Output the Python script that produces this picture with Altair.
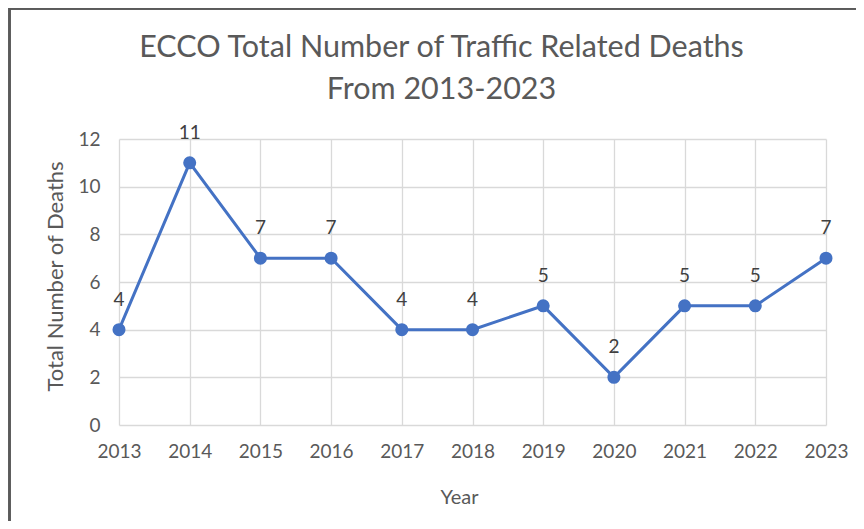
import altair as alt
import pandas as pd

years = [2013, 2014, 2015, 2016, 2017, 2018, 2019, 2020, 2021, 2022, 2023]
deaths = [4, 11, 7, 7, 4, 4, 5, 2, 5, 5, 7]
y_ticks = [0, 2, 4, 6, 8, 10, 12]

df = pd.DataFrame({"Year": years, "Deaths": deaths})

FONT = "Lato"
GRAY = "#595959"
BLUE = "#4472C4"

x = alt.X(
    "Year:Q",
    scale=alt.Scale(domain=[2013, 2023], nice=False, zero=False),
    axis=alt.Axis(
        values=years, format="d", title="Year", grid=True,
        domain=False, ticks=False, labelPadding=17, labelFlush=False,
        labelOverlap=False, titleX=340, titleY=72, titleBaseline="middle",
    ),
)
y = alt.Y(
    "Deaths:Q",
    scale=alt.Scale(domain=[0, 12], nice=False),
    axis=alt.Axis(
        values=y_ticks, title="Total Number of Deaths", grid=True,
        domain=False, ticks=False, labelPadding=19,
        titleX=-64, titleY=137, titleBaseline="middle", titleFontSize=22,
    ),
)

base = alt.Chart(df).encode(x=x, y=y)

line = base.mark_line(color=BLUE, strokeWidth=3)
points = base.mark_circle(color=BLUE, size=170, opacity=1)
labels = base.mark_text(dy=-30, fontSize=19, color="#404040", font=FONT).encode(
    text=alt.Text("Deaths:Q")
)

# chart frame (left and top edges of the Excel chart border)
frame_left = alt.Chart(df).mark_rule(color="#5a5a5a", strokeWidth=1.5).encode(
    x=alt.value(-109.5), y=alt.value(-131), y2=alt.value(382)
)
frame_top = alt.Chart(df).mark_rule(color="#5a5a5a", strokeWidth=1.5).encode(
    x=alt.value(-110), x2=alt.value(737), y=alt.value(-130.5)
)

chart = (
    alt.layer(frame_left, frame_top, line, points, labels)
    .properties(
        width=707,
        height=286,
        title=alt.TitleParams(
            text=["ECCO Total Number of Traffic Related Deaths", "From 2013-2023"],
            fontSize=30.5, font=FONT, fontWeight="normal", color=GRAY,
            anchor="middle", frame="group", dx=-31, offset=-98, lineHeight=42,
        ),
        autosize=alt.AutoSizeParams(type="none"),
        padding={"left": 111, "top": 131, "right": 30, "bottom": 96},
    )
    .configure_view(stroke=None)
    .configure_axis(
        gridColor="#d9d9d9", gridWidth=1.3,
        labelFont=FONT, labelFontSize=19, labelColor=GRAY,
        titleFont=FONT, titleFontSize=20, titleColor=GRAY, titleFontWeight="normal",
    )
)

chart.save("out.html", embed_options={"renderer": "svg", "actions": False})
